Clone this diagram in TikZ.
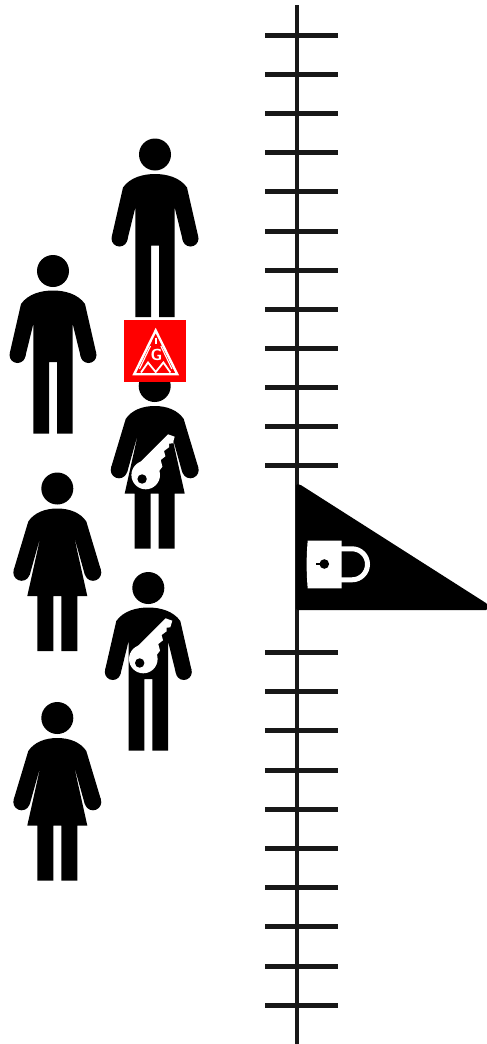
\documentclass[tikz,border=0pt]{standalone}
\usepackage{xcolor}
\usetikzlibrary{positioning}
\definecolor{rulerdark}{RGB}{24,24,24}
\definecolor{igmred}{RGB}{255,0,0}
\tikzset{
    figure/.style={fill=black, draw=none},
    tick/.style={draw=rulerdark, line width=5pt},
    pole/.style={draw=rulerdark, line width=4pt},
    logoline/.style={draw=white, line width=2pt, line join=miter},
    % Person pictograms, origin at the centre of the head
    manfig/.pic={
        \fill[figure] (0,0) circle (16);
        \fill[figure] (-35.5,84) circle (8) (35.5,84) circle (8);
        \fill[figure] (0,19.5) .. controls (-12,19.5) and (-25,23) .. (-32,33) -- (-43.2,82) -- (-27.8,86) -- (-19.7,53)
            -- (-19.7,162.5) -- (-4,162.5) -- (-4,91) -- (4,91) -- (4,162.5) -- (19.7,162.5) -- (19.7,53)
            -- (27.8,86) -- (43.2,82) -- (32,33) .. controls (25,23) and (12,19.5) .. (0,19.5) -- cycle;
    },
    womanfig/.pic={
        \fill[figure] (0,0) circle (16);
        \fill[figure] (-35.7,84) circle (8.3) (35.7,84) circle (8.3);
        \fill[figure] (0,20) .. controls (-12,20) and (-23,24) .. (-29,33) -- (-43.6,81.5) -- (-27.6,86.5) -- (-16.3,46)
            -- (-30,107.5) -- (-20,107.5) -- (-20,162.5) -- (-4,162.5) -- (-4,107.5) -- (4,107.5) -- (4,162.5) -- (20,162.5) -- (20,107.5)
            -- (30,107.5) -- (16.3,46) -- (27.6,86.5) -- (43.6,81.5) -- (29,33) .. controls (23,24) and (12,20) .. (0,20) -- cycle;
    },
    keyicon/.pic={
        \fill[white] (-5,71) circle (14.3);
        \fill[white] (-11.7,59.3) -- (17.3,30.3) -- (24,32.7) -- (22,39.3) -- (18.3,39.7) -- (18.3,43.3) -- (13.3,47)
            -- (14.7,52.3) -- (10,56) -- (11.7,62.7) -- (6.7,69.3) -- (-5,71) -- cycle;
        \fill[black] (-8.6,75) circle (4.7);
    }
}
\begin{document}
\begin{tikzpicture}[x=1pt, y=-1pt]
    \useasboundingbox (0,0) rectangle (487,1044);

    % Ruler
    \draw[pole] (297,5) -- (297,1044);
    \foreach \yy in {35,74,113,152,191,231,270,309,348,387,426,465,652,691,730,770,809,848,887,926,966,1005}
        \draw[tick] (265,\yy) -- (338,\yy);

    % Flag with padlock
    \fill[black, rounded corners=1.5pt] (296,484) -- (300,484.5) -- (487.5,604) -- (487.5,610) -- (296,610) -- cycle;
    \fill[white] (307.7,540.7) -- (341.7,540.7) -- (341.7,588.3) -- (307.7,588.3) .. controls (306.3,572) and (306.3,557) .. (307.7,540.7) -- cycle;
    \draw[white, line width=5pt] (341,548.8) -- (352,548.8) .. controls (360.56,548.8) and (367.5,555.74) .. (367.5,564.3)
        .. controls (367.5,572.86) and (360.56,579.8) .. (352,579.8) -- (341,579.8);
    \fill[black] (324.3,564) circle (4.8);
    \fill[black] (315.7,562.8) rectangle (324,565.2);

    % People
    \pic at (155,154.5) {manfig};
    \pic at (53,271) {manfig};
    \pic at (154.7,386) {womanfig};
    \pic at (150.7,404) {keyicon};
    \pic at (57.3,488.5) {womanfig};
    \pic at (148.3,588) {manfig};
    \pic at (148.3,588) {keyicon};
    \pic at (57.3,718) {womanfig};

    % Logo
    \fill[igmred] (124,320) rectangle (186,381.7);
    \draw[logoline, line width=2.4pt] (155.7,330.5) -- (134.2,374.2) -- (177.2,374.2) -- cycle;
    \draw[logoline] (155.7,337.5) -- (155.7,343.5);
    \draw[logoline, line width=1.1pt] (150.5,346) -- (139.5,369) (160.9,346) -- (171.9,369);
    \draw[logoline, line width=1.8pt] (141,372.5) -- (148,362.5) -- (155.7,372) -- (163.4,362.5) -- (170.4,372.5);
    \node[text=white, inner sep=0pt, font=\fontsize{16}{16}\sffamily\bfseries] (igmletter) at (156.4,355) {G};
\end{tikzpicture}
\end{document}
